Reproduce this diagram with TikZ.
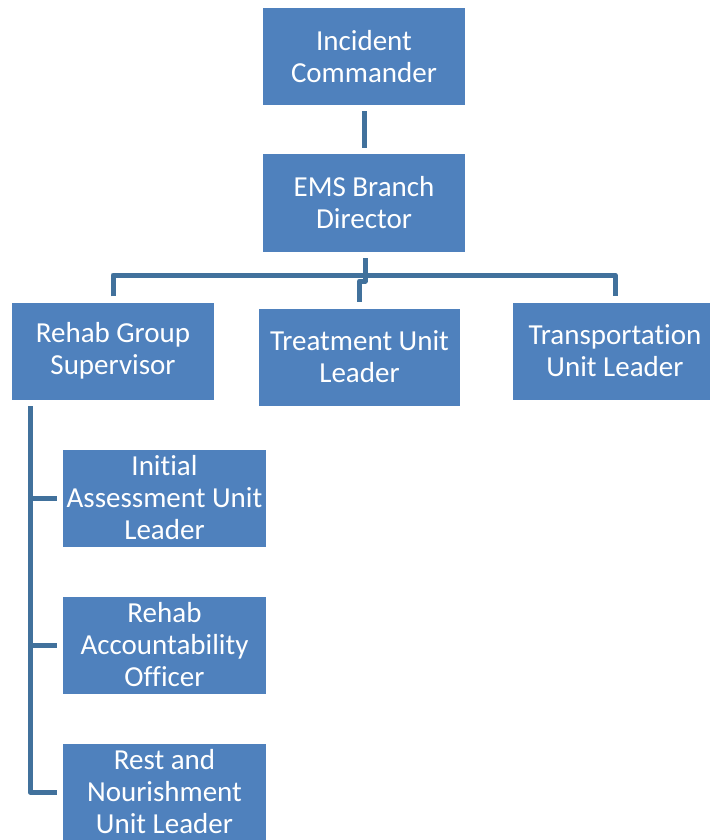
\documentclass[tikz,border=0pt]{standalone}
\usepackage{fontspec}
\setmainfont{Carlito}[Ligatures=NoCommon]
\usepackage{tikz}
\usetikzlibrary{calc}
\definecolor{boxblue}{HTML}{4F81BD}
\definecolor{lineblue}{HTML}{41719C}

\begin{document}
\begin{tikzpicture}[x=1pt, y=1pt, font=\fontsize{29}{32}\selectfont,
box/.style={rectangle, fill=boxblue, text=white, minimum width=202pt, minimum height=97pt, align=center, inner sep=1pt},
link/.style={draw=lineblue, line width=5pt, line join=round}]
 \useasboundingbox (0,0) rectangle (709,-840);
 \node[box] (ic) at (364,-56.5) {Incident\\Commander};
 \node[box, below of=ic, node distance=146.5pt, minimum height=98pt] (ems) {EMS Branch\\Director};
 \node[box] (rehab) at (113,-351) {Rehab Group\\Supervisor};
 \node[box, minimum width=201pt] (treat) at (359.5,-357) {Treatment Unit\\Leader};
 \node[box, minimum width=204pt] (transp) at (615,-351) {Transportation\\Unit Leader};
 \node[box, minimum width=203pt] (init) at (164.5,-498) {Initial\\Assessment Unit\\Leader};
 \node[box, minimum width=203pt, below of=init, node distance=147pt] (account) {Rehab\\Accountability\\Officer};
 \node[box, minimum width=203pt, below of=account, node distance=147pt] (rest) {Rest and\\Nourishment\\Unit Leader};

 \coordinate (hub) at (365,-275);
 \coordinate (trunk) at (30,-406);

 \draw[link] ([yshift=-6pt]ic.south) -- ([yshift=6pt]ems.south |- ems.north);
 \draw[link] ([xshift=1pt, yshift=-6pt]ems.south) -- (hub);
 \draw[link] ([yshift=6pt]rehab.north) |- (hub) -| ([yshift=6pt]transp.north);
 \draw[link] (hub) -- ++(0,-6) -| ([yshift=6pt]treat.north);
 \draw[link] (trunk) |- ([xshift=-6pt]rest.west);
 \draw[link] (trunk |- init.west) -- ([xshift=-6pt]init.west);
 \draw[link] (trunk |- account.west) -- ([xshift=-6pt]account.west);
\end{tikzpicture}
\end{document}
